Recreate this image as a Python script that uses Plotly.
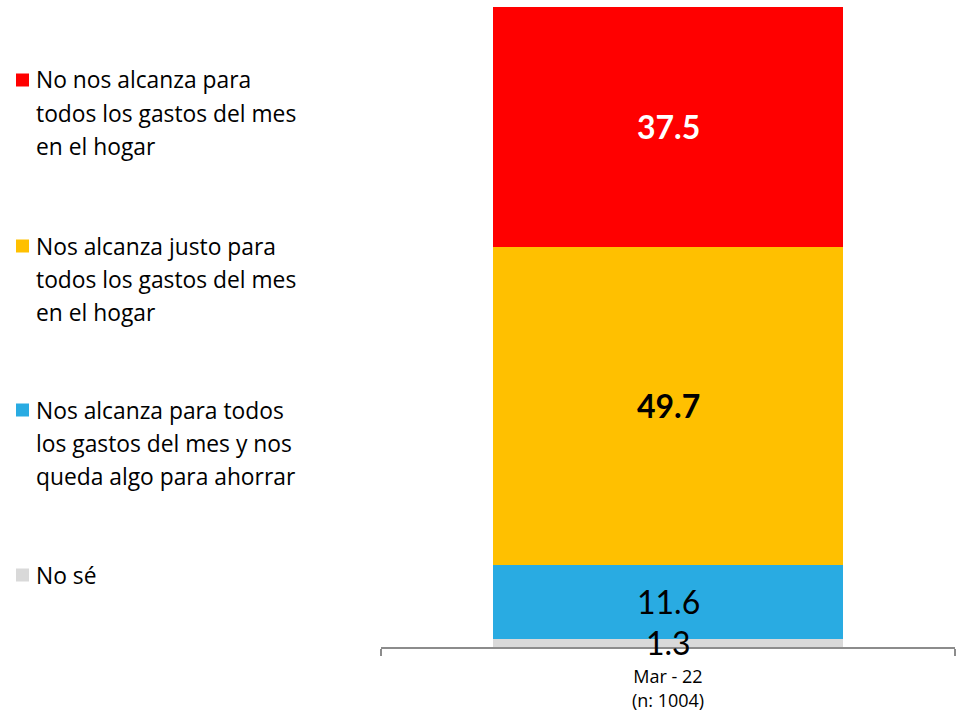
import plotly.graph_objects as go

# Survey period (single stacked column)
period_label = "Mar - 22<br>(n: 1004)"

# Responses, listed from the bottom of the stack to the top
series_names = [
    "No sé",
    "Nos alcanza para todos los gastos del mes y nos queda algo para ahorrar",
    "Nos alcanza justo para todos los gastos del mes en el hogar",
    "No nos alcanza para todos los gastos del mes en el hogar",
]
series_values = [1.3, 11.6, 49.7, 37.5]

# Legend text, wrapped line by line (same order as series_names)
legend_lines = [
    ["No sé"],
    ["Nos alcanza para todos", "los gastos del mes y nos", "queda algo para ahorrar"],
    ["Nos alcanza justo para", "todos los gastos del mes", "en el hogar"],
    ["No nos alcanza para", "todos los gastos del mes", "en el hogar"],
]

colors = ["#D9D9D9", "#29ABE2", "#FFC000", "#FF0000"]
label_colors = ["#000000", "#000000", "#000000", "#FFFFFF"]
label_bold = [False, False, True, True]

FONT = "'Open Sans', sans-serif"
NUM_FONT = "Lato, 'Open Sans', sans-serif"
W, H = 956, 714
M_L, M_R, M_T, M_B = 381, 1, 7, 67
PLOT_W = W - M_L - M_R
PLOT_H = H - M_T - M_B

fig = go.Figure()
for name, val, col in zip(series_names, series_values, colors):
    fig.add_trace(go.Bar(
        x=[period_label], y=[val], name=name,
        marker=dict(color=col, line=dict(width=0)),
        width=0.61, showlegend=False, hoverinfo="name+y",
    ))

# Value labels centred on each segment
annotations = []
base = 0.0
for val, lc, bold in zip(series_values, label_colors, label_bold):
    txt = f"{val:.1f}"
    annotations.append(dict(
        x=period_label, y=base + val / 2, xref="x", yref="y",
        text=f"<b>{txt}</b>" if bold else txt,
        showarrow=False, xanchor="center", yanchor="middle",
        font=dict(family=NUM_FONT, size=32, color=lc),
    ))
    base += val
total = base

# Legend block on the left (top entry = top of stack)
def px_to_paper_x(px):
    return (px - M_L) / PLOT_W

def px_to_paper_y(py):
    return (H - M_B - py) / PLOT_H

legend_first_line_y = [575, 410, 246, 80]
LINE_STEP = 33
shapes = []
for lines, col, y0 in zip(legend_lines, colors, legend_first_line_y):
    shapes.append(dict(
        type="rect", xref="paper", yref="paper",
        x0=px_to_paper_x(16), x1=px_to_paper_x(29),
        y0=px_to_paper_y(y0 + 6.5), y1=px_to_paper_y(y0 - 6.5),
        fillcolor=col, line=dict(width=0),
    ))
    for i, line in enumerate(lines):
        annotations.append(dict(
            x=px_to_paper_x(34), y=px_to_paper_y(y0 + i * LINE_STEP),
            xref="paper", yref="paper", text=line, showarrow=False,
            xanchor="left", yanchor="middle",
            font=dict(family=FONT, size=22.8, color="#000000"),
        ))

fig.update_layout(
    barmode="stack",
    width=W, height=H,
    margin=dict(l=M_L, r=M_R, t=M_T, b=M_B, pad=0),
    paper_bgcolor="white", plot_bgcolor="white",
    font=dict(family=FONT, color="#000000"),
    bargap=0,
    xaxis=dict(
        type="category", showline=True, linecolor="#8C8C8C", linewidth=1.5,
        ticks="outside", tickson="boundaries", ticklen=7, tickcolor="#8C8C8C",
        tickwidth=1.5, ticklabelstandoff=13,
        tickfont=dict(family=FONT, size=18, color="#000000"),
        showgrid=False, zeroline=False, fixedrange=True,
    ),
    yaxis=dict(
        range=[0, total], visible=False, showgrid=False, zeroline=False,
        fixedrange=True,
    ),
    annotations=annotations,
    shapes=shapes,
)

fig.write_html("out.html")
